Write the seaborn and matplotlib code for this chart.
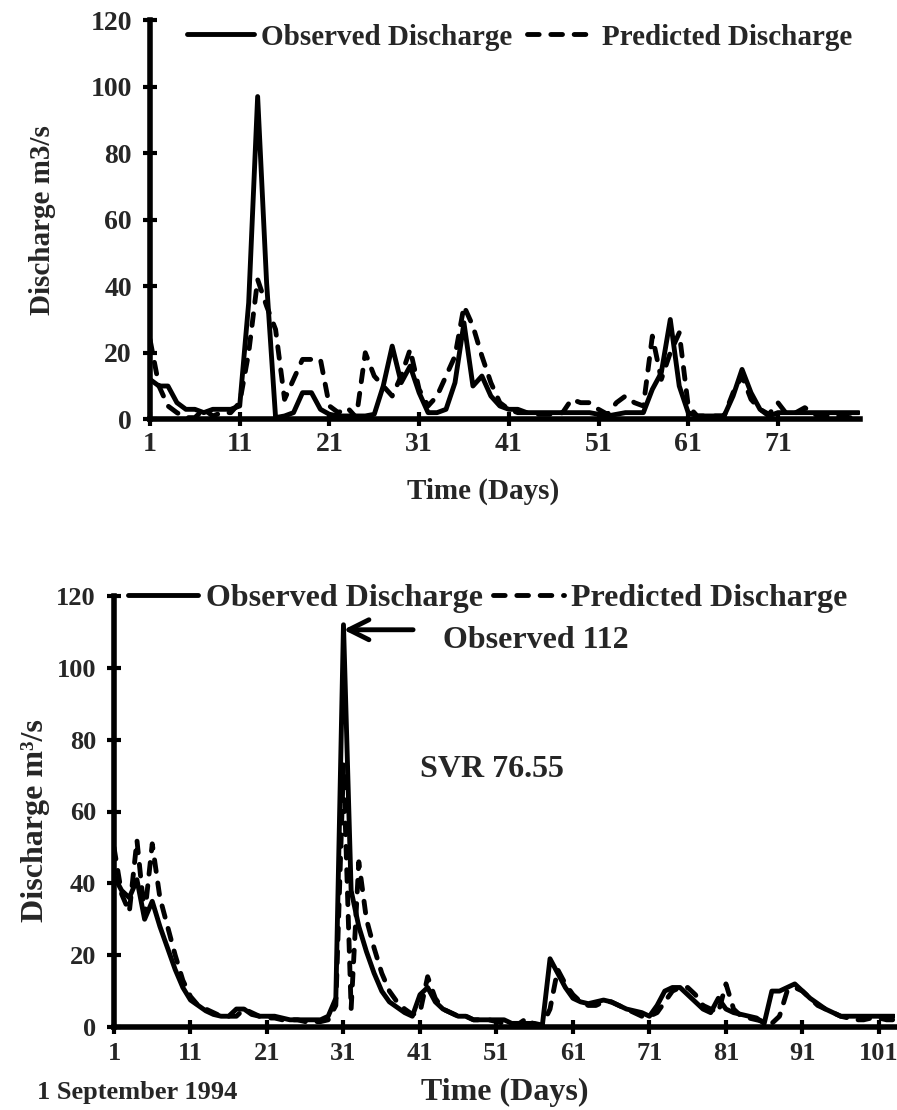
import numpy as np
import pandas as pd
import seaborn as sns
import matplotlib.pyplot as plt

# ---------------- data ----------------
top_days = list(range(1, 81))
top_observed = [12, 10, 10, 5, 3, 3, 2, 3, 3, 3,
                4, 35, 97, 41, 0.5, 1, 2, 8, 8, 3,
                1.5, 1, 1, 1, 1, 1.5, 10, 22, 11, 16,
                8, 2, 2, 3, 11, 29, 10, 13, 7, 4,
                3, 3, 2, 2, 2, 2, 2, 2, 2, 2,
                1.5, 1, 1.5, 2, 2, 2, 9, 14, 30, 10,
                2, 1, 1, 1, 1, 7, 15, 8, 3, 1,
                2, 2, 2, 2, 2, 2, 2, 2, 2, 2]
top_predicted = [24, 10, 4, 2, 0.5, 0.5, 3, 1, 2, 2,
                 5, 20, 42, 34, 27, 6, 12, 18, 18, 18,
                 4, 2, 3.5, 0.5, 20, 13, 10, 7, 13, 21,
                 9, 4, 7, 13, 19, 34, 28, 19, 11, 5,
                 3, 2, 2, 1.5, 1.5, 1.5, 2, 6, 5, 5,
                 3, 1.5, 5, 7, 5, 4, 25, 12, 20, 26,
                 4, 1, 1, 1, 1, 8, 13, 6, 3, 1.5,
                 5, 1.5, 2, 3.5, 1.5, 1, 1, 1, 0.5, 0.5]

bot_days = list(range(1, 104))
bot_observed = [42, 38, 36, 41, 30, 35, 28, 22, 16, 11,
                7.5, 6, 4.5, 3.5, 3, 3, 5, 5, 3.5, 3,
                3, 3, 2.5, 2, 2, 2, 2, 2, 3, 8,
                112, 38, 28, 21, 15, 10, 7, 5.5, 4, 3,
                9, 11, 7, 5, 4, 3, 3, 2, 2, 2,
                2, 2, 1, 1, 1, 1, 0.5, 19, 15, 11,
                8, 7, 6.5, 7, 7.5, 7, 6, 5, 4.5, 4,
                3, 6, 10, 11, 11, 9, 7, 5, 4, 8,
                5, 4, 3.5, 3, 2.5, 1, 10, 10, 11, 12,
                10, 8, 6.5, 5, 4, 3, 3, 3, 3, 3,
                3, 3, 3]
bot_predicted = [50, 37, 32, 52, 31, 51, 36, 28, 20, 13,
                 8.5, 6, 5, 4, 3, 3, 3, 5, 4, 3,
                 2.5, 2.5, 2, 2, 2, 1.5, 1.5, 1.5, 2, 6,
                 73, 5, 46, 30, 22, 15, 10, 7, 5, 3.5,
                 4, 14, 8, 5, 4, 3, 3, 2, 2, 2,
                 1.5, 1, 1, 1, 2.5, 0.5, 0.5, 5, 16, 12,
                 9, 7, 6, 6, 7, 7, 6, 5, 4, 3,
                 3, 4, 7, 10, 11, 11, 9, 6, 5, 4,
                 12, 5, 3, 2.5, 2, 1.5, 1, 3, 10, 11,
                 10, 8, 6, 5, 4, 3, 2.5, 2, 2, 2.5,
                 2.5, 2, 2]

top_xticks = [1, 11, 21, 31, 41, 51, 61, 71]
bot_xticks = [1, 11, 21, 31, 41, 51, 61, 71, 81, 91, 101]
yticks = [0, 20, 40, 60, 80, 100, 120]

# ---------------- style ----------------
sns.set_style("ticks")
plt.rcParams['font.family'] = ['Liberation Serif', 'DejaVu Serif']
plt.rcParams['font.weight'] = 'bold'
plt.rcParams['axes.labelweight'] = 'bold'

fig = plt.figure(figsize=(8.97, 11.10), dpi=100)
ax1 = fig.add_axes([150/897, (1110-419.3)/1110, 710/897, 399.3/1110])
ax2 = fig.add_axes([114/897, (1110-1027)/1110, 781/897, 431/1110])

LW = 3.5
dash = (0, (2.4, 2.4))


def draw(ax, days, obs, pred):
    df = pd.DataFrame({"day": days, "obs": obs, "pred": pred})
    sns.lineplot(data=df, x="day", y="obs", ax=ax, color="black", lw=LW,
                 label="Observed Discharge", solid_capstyle="round",
                 solid_joinstyle="round")
    sns.lineplot(data=df, x="day", y="pred", ax=ax, color="black", lw=LW,
                 linestyle=dash, label="Predicted Discharge",
                 dash_capstyle="round", dash_joinstyle="round")
    for s in ["top", "right"]:
        ax.spines[s].set_visible(False)
    for s in ["left", "bottom"]:
        ax.spines[s].set_linewidth(4)
        ax.spines[s].set_color("black")
    ax.set_ylim(0, 120)
    ax.set_yticks(yticks)
    ax.tick_params(direction="inout", length=10, width=3, color="black")


# ---------- top panel ----------
draw(ax1, top_days, top_observed, top_predicted)
ax1.set_xlim(1, 80.15)
ax1.set_xticks(top_xticks)
ax1.tick_params(axis="both", labelsize=20)
ax1.tick_params(axis="y", pad=8)
ax1.tick_params(axis="x", pad=4)
ax1.set_xlabel("Time (Days)", fontsize=21, fontweight="bold")
ax1.set_ylabel("Discharge m3/s", fontsize=21, fontweight="bold")
ax1.xaxis.set_label_coords(0.469, -0.147)
ax1.yaxis.set_label_coords(-0.133, 0.5)
ax1.legend(loc="center left", bbox_to_anchor=(0.052, 0.957), ncol=2,
           frameon=False, handlelength=2.3, handletextpad=0.25,
           columnspacing=0.5, borderpad=0, borderaxespad=0,
           prop={"weight": "bold", "size": 21})

# ---------- bottom panel ----------
draw(ax2, bot_days, bot_observed, bot_predicted)
ax2.set_xlim(1, 103.1)
ax2.set_xticks(bot_xticks)
ax2.tick_params(axis="both", labelsize=19)
ax2.tick_params(axis="y", pad=8)
ax2.tick_params(axis="x", pad=6)
ax2.set_xlabel("Time (Days)", fontsize=23, fontweight="bold")
ax2.set_ylabel("Discharge m³/s", fontsize=23, fontweight="bold")
ax2.xaxis.set_label_coords(0.5, -0.118)
ax2.yaxis.set_label_coords(-0.082, 0.48)
ax2.legend(loc="center left", bbox_to_anchor=(0.018, 0.995), ncol=2,
           frameon=False, handlelength=2.2, handletextpad=0.25,
           columnspacing=0.31, borderpad=0, borderaxespad=0,
           prop={"weight": "bold", "size": 23})

ax2.annotate("", xy=(31, 110.6), xytext=(40.1, 110.6),
             arrowprops=dict(arrowstyle="->", lw=3.5, color="black",
                             mutation_scale=36, shrinkA=0, shrinkB=0))
ax2.text(44, 107.5, "Observed 112", ha="left", va="center",
         fontsize=23, fontweight="bold")
ax2.text(41, 71.6, "SVR 76.55", ha="left", va="center",
         fontsize=23, fontweight="bold")
ax2.text(-0.0986, -0.151, "1 September 1994", transform=ax2.transAxes,
         ha="left", va="center", fontsize=19, fontweight="bold")

fig.savefig("out.png", dpi=100)
